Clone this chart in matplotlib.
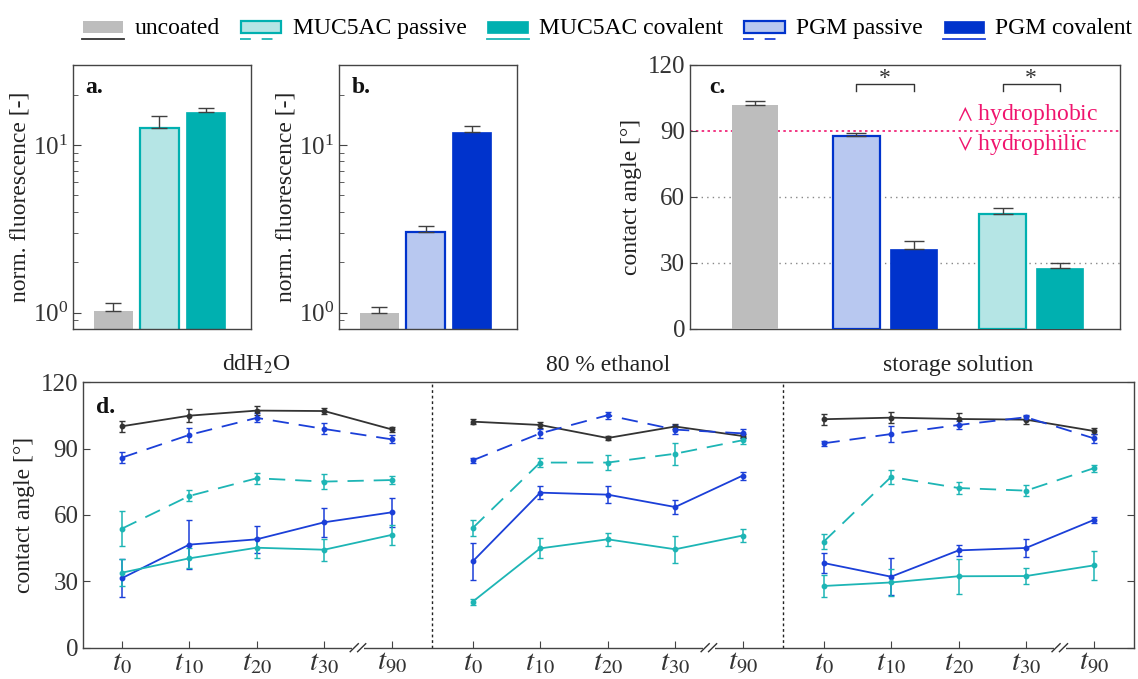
import matplotlib.pyplot as plt
import matplotlib.transforms as mtransforms
from matplotlib.patches import Rectangle
from matplotlib.lines import Line2D

plt.rcParams['font.family'] = ['Liberation Serif', 'DejaVu Serif']
plt.rcParams['mathtext.fontset'] = 'stix'
plt.rcParams['axes.edgecolor'] = '#444444'
plt.rcParams['axes.linewidth'] = 1.0
FS = 17

GREY = '#bdbdbd'
DARK = '#333333'
TEAL = '#00b0b0'
TEAL_LIGHT = '#b5e5e5'
BLUE = '#0033cc'
BLUE_LIGHT = '#b8c8f0'
PINK = '#f0146e'
TEAL_LINE = '#1db5b5'
BLUE_LINE = '#1b3fd8'
ERR = '#404040'
DASH = (0, (9, 5.5))

# a. fluorescence after MUC5AC coating
fluo_a = [1.02, 12.6, 15.7]
fluo_a_err = [0.13, 2.2, 1.0]
# b. fluorescence after PGM coating
fluo_b = [1.0, 3.03, 12.0]
fluo_b_err = [0.076, 0.26, 0.9]

# c. contact angle of the coatings
ca = [102.0, 87.6, 36.4, 52.1, 27.9]
ca_err = [1.5, 1.3, 3.5, 2.7, 2.2]

# d. contact angle over storage time, one row per medium
times = ['0', '10', '20', '30', '90']
media = ['ddH$_2$O', '80 % ethanol', 'storage solution']
d_uncoated = [[100.1, 104.9, 107.2, 107.0, 98.7],
              [102.2, 100.7, 94.8, 100.0, 95.7],
              [103.3, 104.0, 103.4, 103.1, 98.0]]
d_uncoated_err = [[2.4, 2.8, 2.0, 1.5, 1.0],
                  [1.2, 1.2, 0.8, 1.2, 1.0],
                  [2.5, 2.5, 2.5, 1.8, 1.5]]
d_pgm_pas = [[85.9, 96.2, 103.9, 98.9, 94.2],
             [84.7, 96.9, 105.1, 98.6, 96.9],
             [92.4, 96.6, 100.7, 104.2, 94.7]]
d_pgm_pas_err = [[2.5, 3.0, 2.0, 2.5, 1.8],
                 [1.2, 2.0, 1.5, 2.0, 2.0],
                 [1.0, 3.5, 2.0, 1.2, 2.0]]
d_muc_pas = [[53.8, 68.6, 76.6, 75.1, 75.8],
             [54.1, 83.7, 83.7, 87.7, 93.8],
             [47.9, 77.2, 72.2, 71.0, 81.1]]
d_muc_pas_err = [[8.0, 2.5, 2.5, 3.5, 2.0],
                 [3.5, 2.0, 3.5, 5.0, 1.5],
                 [3.5, 3.0, 2.5, 2.5, 1.5]]
d_pgm_cov = [[31.4, 46.6, 49.0, 56.7, 61.2],
             [39.0, 70.1, 69.2, 63.6, 77.8],
             [38.3, 32.1, 44.0, 45.1, 57.7]]
d_pgm_cov_err = [[8.5, 11.0, 6.0, 6.5, 6.5],
                 [8.5, 3.0, 4.0, 3.0, 1.8],
                 [4.5, 8.5, 2.5, 4.0, 1.5]]
d_muc_cov = [[33.9, 40.4, 45.2, 44.3, 51.0],
             [20.8, 44.9, 49.0, 44.5, 50.7],
             [27.9, 29.5, 32.3, 32.4, 37.2]]
d_muc_cov_err = [[6.0, 4.5, 4.5, 5.0, 4.5],
                 [1.3, 4.5, 3.0, 6.2, 3.0],
                 [5.0, 6.0, 8.0, 3.5, 6.5]]


class BarLine:
    def __init__(self, face, edge, lw, color, ls):
        self.face, self.edge, self.lw = face, edge, lw
        self.color, self.ls = color, ls


class BarLineHandler:
    # bar swatch sitting on the text baseline, panel d line style below it
    def legend_artist(self, legend, h, fontsize, handlebox):
        x0 = -handlebox.xdescent
        w = handlebox.width
        tr = handlebox.get_transform()
        rect = Rectangle((x0 + 0.5, 0.3), w - 1, 9.0, facecolor=h.face,
                         edgecolor=h.edge, lw=h.lw, transform=tr)
        line = Line2D([x0, x0 + w], [-3.9, -3.9], color=h.color,
                      ls=h.ls, lw=1.3, transform=tr)
        handlebox.add_artist(rect)
        handlebox.add_artist(line)
        return rect


fig = plt.figure(figsize=(11.38, 6.79), dpi=100)

# ---- a. / b. fluorescence (log scale)
for left, vals, errs, face, edge, label in [
        (0.0641, fluo_a, fluo_a_err, [GREY, TEAL_LIGHT, TEAL], [GREY, TEAL, TEAL], 'a.'),
        (0.2979, fluo_b, fluo_b_err, [GREY, BLUE_LIGHT, BLUE], [GREY, BLUE, BLUE], 'b.')]:
    ax = fig.add_axes([left, 0.5155, 0.1568, 0.3888])
    pos = [1, 2, 3]
    ax.bar(pos, vals, width=0.84, color=face, edgecolor=edge,
           linewidth=[0, 1.6, 0.5], zorder=2)
    ax.errorbar(pos, vals, yerr=[[0, 0, 0], errs], fmt='none', ecolor=ERR,
                elinewidth=1, capsize=5.5, capthick=1, zorder=3)
    ax.set_yscale('log')
    ax.set_ylim(0.8, 30)
    ax.set_xlim(0.135, 3.98)
    ax.set_xticks([])
    ax.tick_params(axis='y', which='both', direction='in', labelsize=18,
                   colors='#444444', labelcolor='#333333')
    ax.tick_params(axis='y', which='major', length=6)
    ax.tick_params(axis='y', which='minor', length=3.5)
    ax.set_ylabel('norm. fluorescence [-]', fontsize=FS, color='#222222', labelpad=2)
    ax.text(0.07, 0.955, label, transform=ax.transAxes, fontsize=FS,
            fontweight='bold', va='top', ha='left', color='#111111')

# ---- c. contact angle of the coatings
axc = fig.add_axes([0.6063, 0.5155, 0.3779, 0.3888])
pos_c = [1, 2.77, 3.77, 5.32, 6.32]
axc.bar(pos_c, ca, width=0.815,
        color=[GREY, BLUE_LIGHT, BLUE, TEAL_LIGHT, TEAL],
        edgecolor=[GREY, BLUE, BLUE, TEAL, TEAL],
        linewidth=[0, 1.6, 0.5, 1.6, 0.5], zorder=3)
axc.errorbar(pos_c, ca, yerr=[[0] * 5, ca_err], fmt='none', ecolor=ERR,
             elinewidth=1, capsize=7, capthick=1, zorder=4)
for yv in (30, 60):
    axc.axhline(yv, color='#888888', ls=(0, (1, 3)), lw=1, zorder=1)
axc.axhline(90, color=PINK, ls=(0, (1.5, 2)), lw=1.2, zorder=1)
axc.set_xlim(-0.134, 7.37)
axc.set_ylim(0, 120)
axc.set_yticks([0, 30, 60, 90, 120])
axc.set_xticks([])
axc.tick_params(axis='y', direction='in', length=5, labelsize=18,
                colors='#444444', labelcolor='#333333')
axc.set_ylabel('contact angle [°]', fontsize=FS, color='#222222', labelpad=4)
axc.text(0.045, 0.955, 'c.', transform=axc.transAxes, fontsize=FS,
         fontweight='bold', va='top', ha='left', color='#111111')
for xa, xb in [(pos_c[1], pos_c[2]), (pos_c[3], pos_c[4])]:
    axc.plot([xa, xa, xb, xb], [108, 111.2, 111.2, 108], color=DARK, lw=1, zorder=4)
    axc.text((xa + xb) / 2, 114.0, '*', ha='center', va='center', fontsize=FS, color=DARK)
axc.text(4.53, 97.5, '$\\wedge$ hydrophobic', color=PINK, fontsize=FS, va='center', ha='left')
axc.text(4.53, 84.0, '$\\vee$ hydrophilic', color=PINK, fontsize=FS, va='center', ha='left')

# ---- d. contact angle over time in three media
axd = fig.add_axes([0.0732, 0.0461, 0.9233, 0.3909])
series = [
    (d_uncoated, d_uncoated_err, DARK, '-'),
    (d_pgm_pas, d_pgm_pas_err, BLUE_LINE, DASH),
    (d_muc_pas, d_muc_pas_err, TEAL_LINE, DASH),
    (d_pgm_cov, d_pgm_cov_err, BLUE_LINE, '-'),
    (d_muc_cov, d_muc_cov_err, TEAL_LINE, '-'),
]
xticks, xlabels = [], []
trans = mtransforms.blended_transform_factory(axd.transData, axd.transAxes)
for g, medium in enumerate(media):
    xs = [1 + 5.2 * g + i for i in range(len(times))]
    xticks += xs
    xlabels += ['$t_{%s}$' % t for t in times]
    for vals, errs, col, ls in series:
        axd.errorbar(xs, vals[g], yerr=errs[g], color=col, ls=ls, lw=1.3,
                     marker='o', ms=3.2, elinewidth=1.1, capsize=2.5,
                     capthick=1, zorder=3)
    axd.text(xs[2], 1.025, medium, transform=trans, ha='center', va='bottom',
             fontsize=FS, color='#222222')
    # axis break between t30 and t90
    xb = xs[3] + 0.5
    axd.add_patch(Rectangle((xb - 0.09, -0.012), 0.18, 0.024, transform=trans,
                            facecolor='white', edgecolor='none', clip_on=False, zorder=5))
    for dx in (-0.055, 0.055):
        axd.plot([xb + dx - 0.06, xb + dx + 0.06], [-0.015, 0.015], transform=trans,
                 color=DARK, lw=1, clip_on=False, zorder=6)
    if g > 0:
        axd.axvline(5.6 + 5.2 * (g - 1), color='#222222', ls=(0, (2, 2)), lw=1, zorder=1)

axd.set_xlim(0.43, 16.0)
axd.set_ylim(0, 120)
axd.set_yticks([0, 30, 60, 90, 120])
axd.set_xticks(xticks)
axd.set_xticklabels(xlabels, fontsize=21)
axd.tick_params(axis='x', direction='in', length=5, pad=2, colors='#444444',
                labelcolor='#333333')
axd.tick_params(axis='y', direction='in', length=5, labelsize=18, right=True,
                colors='#444444', labelcolor='#333333')
axd.set_ylabel('contact angle [°]', fontsize=FS, color='#222222', labelpad=4)
axd.text(0.012, 0.945, 'd.', transform=axd.transAxes, fontsize=FS,
         fontweight='bold', va='top', ha='left', color='#111111')

# ---- shared legend
handles = [
    BarLine(GREY, GREY, 0, DARK, '-'),
    BarLine(TEAL_LIGHT, TEAL, 1.6, TEAL_LINE, (0, (6, 6))),
    BarLine(TEAL, TEAL, 0.5, TEAL_LINE, '-'),
    BarLine(BLUE_LIGHT, BLUE, 1.6, BLUE_LINE, (0, (6, 6))),
    BarLine(BLUE, BLUE, 0.5, BLUE_LINE, '-'),
]
names = ['uncoated', 'MUC5AC passive', 'MUC5AC covalent', 'PGM passive', 'PGM covalent']
fig.legend(handles, names, handler_map={BarLine: BarLineHandler()},
           loc='upper left', bbox_to_anchor=(0.072, 0.976), ncol=5, frameon=False,
           fontsize=FS, handlelength=1.78, handleheight=0.85, handletextpad=0.45,
           columnspacing=0.85, borderpad=0, borderaxespad=0)

fig.savefig('out.png', dpi=100)
